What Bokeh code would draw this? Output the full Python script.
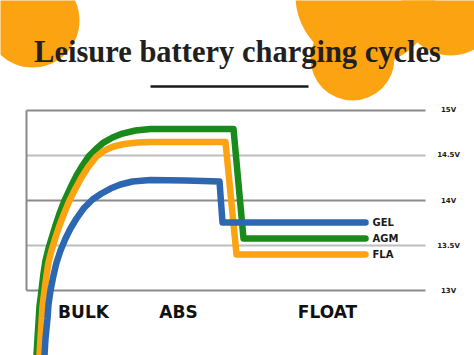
from bokeh.plotting import figure
from bokeh.models import Range1d
from bokeh.core.properties import value
from bokeh.embed import file_html
from bokeh.resources import INLINE

# ---- data (time in arbitrary units, voltage in V) ----
agm_t = [10, 11, 12, 13, 15, 17, 19, 22, 25, 29, 33, 38, 44, 50, 56, 62, 69, 77, 86, 96,
         109, 124, 207, 217, 339]
agm_v = [12.278, 12.467, 12.644, 12.822, 13.0, 13.189, 13.333, 13.467, 13.578, 13.722,
         13.856, 14.0, 14.144, 14.278, 14.389, 14.489, 14.567, 14.644, 14.7, 14.744,
         14.778, 14.794, 14.794, 13.578, 13.578]

fla_t = [13, 14, 15, 16, 18, 20, 22, 25, 29, 33, 38, 43, 49, 55, 62, 70, 78, 87, 98, 111,
         124, 199, 210, 339]
fla_v = [12.278, 12.467, 12.644, 12.822, 13.0, 13.167, 13.311, 13.444, 13.589, 13.722,
         13.867, 14.0, 14.133, 14.256, 14.378, 14.489, 14.556, 14.6, 14.628, 14.644,
         14.65, 14.65, 13.4, 13.4]

gel_t = [18, 19, 21, 22, 24, 27, 30, 34, 39, 44, 50, 57, 66, 75, 84, 94, 106, 124, 159,
         193, 196, 339]
gel_v = [12.278, 12.467, 12.689, 12.844, 13.0, 13.167, 13.311, 13.444, 13.578, 13.689,
         13.8, 13.911, 14.011, 14.078, 14.133, 14.178, 14.211, 14.228, 14.222, 14.211,
         13.756, 13.756]

series_names = ["AGM", "FLA", "GEL"]
series_colors = ["#1a8a1a", "#fca311", "#2e67b1"]

grid_levels = [15.0, 14.5, 14.0, 13.5, 13.0]
grid_colors = ["#8a8a8a", "#bdbdbd", "#8a8a8a", "#bdbdbd", "#8a8a8a"]
tick_labels = ["15V", "14.5V", "14V", "13.5V", "13V"]

phase_labels = ["BULK", "ABS", "FLOAT"]
phase_t = [57, 152, 301]

title_text = "Leisure battery charging cycles"

# decorative blobs (t, v, screen radius)
blob_t = [6, 339, 326, 424]
blob_v = [16.0, 16.278, 15.578, 16.156]
blob_r = [47, 70, 42, 49]

p = figure(width=474, height=355, output_backend="svg", toolbar_location=None,
           x_range=Range1d(-26, 448), y_range=Range1d(12.2778, 16.2222),
           x_axis_type=None, y_axis_type=None, min_border=0,
           background_fill_color="white", border_fill_color="white")
p.grid.visible = False
p.outline_line_color = None

# blobs
p.circle(x=blob_t, y=blob_v, radius=blob_r, radius_units="screen",
         fill_color="#fca311", line_color=None)

# title and underline
p.text(x=[211], y=[15.65], text=[title_text], text_font=value("Liberation Serif"),
       text_font_style="bold", text_font_size="30.5px", text_align="center",
       text_baseline="alphabetic", text_color="#231f20")
p.segment(x0=[124], y0=[15.267], x1=[282], y1=[15.267], line_color="#1a1a1a", line_width=2.5)

# gridlines and frame
p.segment(x0=[0] * len(grid_levels), y0=grid_levels, x1=[399] * len(grid_levels), y1=grid_levels,
          line_color=grid_colors, line_width=2)
p.segment(x0=[0], y0=[grid_levels[-1]], x1=[0], y1=[grid_levels[0]], line_color="#8a8a8a", line_width=2)

p.text(x=[422] * len(grid_levels), y=grid_levels, text=tick_labels,
       text_font=value("DejaVu Sans"), text_font_style="bold", text_font_size="7px",
       text_align="center", text_baseline="middle", text_color="#1a1a1a")

# series
for t, v, c in zip([agm_t, fla_t, gel_t], [agm_v, fla_v, gel_v], series_colors):
    p.line(t, v, line_color=c, line_width=6.5, line_join="round", line_cap="round")

# series labels
end_v = [agm_v[-1], fla_v[-1], gel_v[-1]]
p.text(x=[346] * 3, y=end_v, text=series_names, text_font=value("DejaVu Sans"),
       text_font_style="bold", text_font_size="10px", text_align="left",
       text_baseline="middle", text_color="#1a1a1a")

# phase labels
p.text(x=phase_t, y=[12.756] * 3, text=phase_labels, text_font=value("DejaVu Sans"),
       text_font_style="bold", text_font_size="17px", text_align="center",
       text_baseline="middle", text_color="#111111")

open("out.html", "w").write(file_html(p, INLINE))
